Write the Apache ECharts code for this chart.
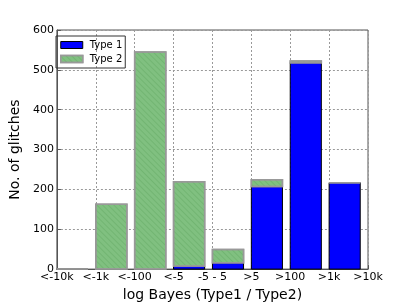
<!DOCTYPE html>
<html>
<head>
<meta charset="utf-8">
<script src="https://cdn.jsdelivr.net/npm/echarts@6/dist/echarts.min.js"></script>
<style>html,body{margin:0;padding:0;background:#fff}#c{width:409px;height:307px}</style>
</head>
<body>
<div id="c"></div>
<script>
var tickLabels = ['<-10k', '<-1k', '<-100', '<-5', '-5 - 5', '>5', '>100', '>1k', '>10k'];
var type1 = [0, 0, 0, 8, 16, 207, 518, 217];
var type2 = [0, 163, 545, 211, 33, 17, 4, 0];
var seriesNames = ['Type 1', 'Type 2'];

var BAR_W = 0.8;
var font = 'DejaVu Sans';

// each datum: [bin index, bottom value, top value]
function stackData(vals, base) {
  return vals.map(function (v, i) {
    var b = base ? base[i] : 0;
    return [i, b, b + v];
  });
}

var blueStyle = {color: '#0000ff', borderColor: '#000', borderWidth: 1};
var greenDecal = {symbol: 'rect', symbolSize: 1, dashArrayX: [1, 0], dashArrayY: [1, 3], rotation: Math.PI / 4, color: 'rgba(90,160,90,0.35)'};
var greenStyle = {color: '#80c080', borderColor: '#999', borderWidth: 1.5, decal: greenDecal};

function makeRender(style) {
  return function (params, api) {
    var x = api.value(0), y0 = api.value(1), y1 = api.value(2);
    var p0 = api.coord([x, y0]);
    var p1 = api.coord([x + BAR_W, y1]);
    return {
      type: 'rect',
      shape: {x: p0[0], y: p1[1], width: p1[0] - p0[0], height: p0[1] - p1[1]},
      style: {fill: style.color, stroke: style.borderColor, lineWidth: style.borderWidth, decal: style.decal}
    };
  };
}

var chart = echarts.init(document.getElementById('c'), null, {renderer: 'canvas'});
chart.setOption({
  animation: false,
  backgroundColor: '#fff',
  textStyle: {fontFamily: font},
  grid: {left: 51, right: 41, top: 30, bottom: 31, show: true, borderColor: '#555', borderWidth: 1, backgroundColor: 'transparent'},
  legend: {
    orient: 'vertical', left: 56, top: 36,
    itemWidth: 22, itemHeight: 7, itemGap: 2,
    padding: [3, 3, 3, 4],
    borderColor: '#333', borderWidth: 1,
    icon: 'rect',
    textStyle: {fontFamily: font, fontSize: 10, lineHeight: 12, color: '#000', padding: [0, 0, 0, 2]},
    data: [
      {name: seriesNames[0], itemStyle: blueStyle},
      {name: seriesNames[1], itemStyle: greenStyle}
    ]
  },
  xAxis: {
    type: 'value', min: 0, max: 8, interval: 1,
    name: 'log Bayes (Type1 / Type2)', nameLocation: 'middle', nameGap: 5,
    nameTextStyle: {fontFamily: font, fontSize: 14, color: '#000', verticalAlign: 'top'},
    axisLine: {show: true, lineStyle: {color: '#555'}},
    axisTick: {show: true, inside: true, length: 4, lineStyle: {color: '#555'}},
    axisLabel: {fontFamily: font, fontSize: 11, color: '#000', margin: 3, showMinLabel: true, showMaxLabel: true,
      formatter: function (v) { return tickLabels[Math.round(v)] || ''; }},
    splitLine: {show: true, lineStyle: {color: '#999', type: [2, 2], width: 1}}
  },
  yAxis: {
    type: 'value', min: 0, max: 600, interval: 100,
    name: 'No. of glitches', nameLocation: 'middle', nameGap: 24,
    nameTextStyle: {fontFamily: font, fontSize: 14, color: '#000'},
    axisLine: {show: true, lineStyle: {color: '#555'}},
    axisTick: {show: true, inside: true, length: 4, lineStyle: {color: '#555'}},
    axisLabel: {fontFamily: font, fontSize: 11, color: '#000', margin: 3},
    splitLine: {show: true, lineStyle: {color: '#999', type: [2, 2], width: 1}}
  },
  series: [
    {
      name: seriesNames[0], type: 'custom', renderItem: makeRender(blueStyle),
      itemStyle: {color: blueStyle.color},
      encode: {x: [0], y: [1, 2]},
      data: stackData(type1, null)
    },
    {
      name: seriesNames[1], type: 'custom', renderItem: makeRender(greenStyle),
      itemStyle: {color: greenStyle.color},
      encode: {x: [0], y: [1, 2]},
      data: stackData(type2, type1)
    }
  ]
});
</script>
</body>
</html>
